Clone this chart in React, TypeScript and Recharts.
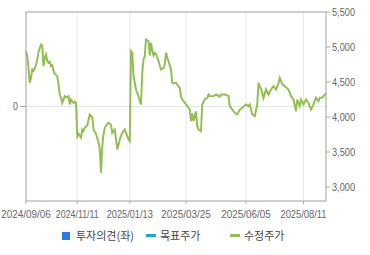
import { LineChart, Line, XAxis, YAxis, CartesianGrid, ReferenceLine } from 'recharts';

// trading-day index (approx.) and adjusted price
const dayIdx = [
  0, 1, 2, 3, 4, 5, 6, 8, 9, 10, 12, 13, 14, 15, 16, 17, 18, 19, 20, 21, 22, 23, 25, 26, 27, 28, 29, 30, 31, 32,
  34, 35, 36, 38, 39, 40, 41, 42, 44, 45, 46, 47, 49, 51, 53, 54, 56, 58, 59, 60, 61, 62, 63, 65, 66, 68, 69, 70, 71, 73,
  74, 75, 77, 79, 81, 82, 83, 84, 85, 86, 88, 90, 91, 92, 93, 94, 95, 96, 98, 99, 100, 101, 102, 103, 104, 106, 108, 110, 111, 112,
  113, 114, 116, 117, 118, 120, 122, 123, 124, 125, 128, 131, 132, 133, 134, 136, 137, 138, 140, 141, 143, 145, 146, 147, 150, 152, 155, 156, 159, 162,
  163, 166, 167, 169, 171, 173, 176, 178, 179, 181, 183, 185, 186, 188, 190, 192, 194, 196, 198, 200, 202, 203, 205, 207, 210, 212, 214, 216, 217, 219,
  220, 222, 224, 226, 228, 230, 232, 234, 235, 237, 239, 240,
];
const adjPrice = [
  4940, 4870, 4700, 4489, 4560, 4679, 4660, 4740, 4821, 4930, 5036, 5020, 4726, 4850, 4893, 4800, 4774, 4790, 4726, 4740, 4655, 4620, 4583, 4470, 4321, 4274, 4202, 4250, 4297, 4280,
  4297, 4179, 4250, 4202, 4220, 4200, 3726, 3760, 3707, 3821, 3800, 3846, 3880, 4036, 4000, 3821, 3760, 3631, 3536, 3203, 3583, 3750, 3846, 3900, 3917, 3890, 3774, 3800, 3821, 3536,
  3600, 3679, 3774, 3821, 3726, 3680, 3655, 4940, 4917, 4583, 4393, 4297, 4230, 4179, 4631, 4821, 4869, 5107, 5083, 4880, 5060, 4950, 4880, 4917, 4900, 4798, 4679, 4700, 4750, 4917,
  4850, 4800, 4679, 4489, 4480, 4489, 4440, 4417, 4297, 4250, 4179, 4107, 3940, 4050, 3940, 4080, 3869, 3821, 3798, 4179, 4250, 4274, 4320, 4297, 4300, 4321, 4290, 4321, 4321, 4300,
  4155, 4083, 4060, 4036, 4100, 4131, 4179, 4155, 4179, 4036, 4012, 4179, 4489, 4400, 4274, 4393, 4321, 4393, 4440, 4393, 4480, 4560, 4470, 4440, 4393, 4297, 4250, 4083, 4250, 4155,
  4250, 4179, 4250, 4200, 4107, 4179, 4274, 4226, 4274, 4274, 4321, 4340,
];

const tickDays = [0, 41, 83, 128, 176, 222];
const tickLabels = ['2024/09/06', '2024/11/11', '2025/01/13', '2025/03/25', '2025/06/05', '2025/08/11'];
const priceTicks = [3000, 3500, 4000, 4500, 5000, 5500];
const opinionTicks = [0];

const legendItems = [
  { name: '투자의견(좌)', color: '#2b7be0', icon: 'square' },
  { name: '목표주가', color: '#1fa6be', icon: 'line' },
  { name: '수정주가', color: '#92bf55', icon: 'line' },
];

const data = dayIdx.map((d, i) => ({ day: d, price: adjPrice[i], opinion: 0 }));

const axisColor = '#aaaaaa';
const labelFont = "'Liberation Sans', Arial, sans-serif";

// the original uses a narrow bitmap-style font: squeeze text to its widths
const textWidth = (s: string) => s.split('').reduce((w, c) => w + (c === '1' ? 3.3 : c === ',' ? 3.3 : 4.93), 0);

function NarrowTick(props: any) {
  const { x, y, payload, textAnchor, verticalAnchor, formatter } = props;
  const s = formatter ? formatter(payload.value) : String(payload.value);
  const dy = verticalAnchor === 'start' ? '0.71em' : verticalAnchor === 'end' ? '0' : '0.355em';
  return (
    <text
      x={x}
      y={y}
      dy={dy}
      textAnchor={textAnchor}
      fontSize={11}
      fill="#666"
      fontFamily={labelFont}
      textLength={textWidth(s)}
      lengthAdjust="spacingAndGlyphs"
    >
      {s}
    </text>
  );
}

export default function App() {
  return (
    <div style={{ position: 'absolute', left: 0, top: 0, width: 370, height: 255, background: '#fff' }}>
      <LineChart width={370} height={255} data={data} margin={{ top: 12, right: 0, bottom: 34, left: 0 }}>
        <CartesianGrid yAxisId="left" stroke="#e6e6e6" />
        <XAxis
          dataKey="day"
          type="number"
          domain={[0, 240]}
          ticks={tickDays}
          interval={0}
          height={20}
          tickSize={3}
          tickMargin={6}
          stroke={axisColor}
          tick={<NarrowTick formatter={(v: number) => tickLabels[tickDays.indexOf(v)]} />}
        />
        <YAxis
          yAxisId="left"
          type="number"
          domain={[-1, 1]}
          allowDataOverflow
          ticks={opinionTicks}
          interval={0}
          width={26}
          stroke={axisColor}
          tick={<NarrowTick />}
        />
        <YAxis
          yAxisId="right"
          orientation="right"
          type="number"
          domain={[2800, 5500]}
          ticks={priceTicks}
          interval={0}
          width={44}
          tickSize={4}
          tickMargin={2}
          stroke={axisColor}
          tick={<NarrowTick formatter={(v: number) => v.toLocaleString('en-US')} />}
        />
        <ReferenceLine yAxisId="right" y={5500} stroke={axisColor} />
        <Line
          yAxisId="left"
          dataKey="opinion"
          stroke="none"
          dot={false}
          activeDot={false}
          isAnimationActive={false}
        />
        <Line
          yAxisId="right"
          type="linear"
          dataKey="price"
          stroke="#92bf55"
          strokeWidth={2}
          dot={false}
          isAnimationActive={false}
        />
      </LineChart>
      <div style={{ position: 'absolute', left: 62, top: 229, display: 'flex', fontFamily: "'Noto Sans CJK KR', sans-serif", fontSize: 11, color: '#444' }}>
        {legendItems.map((it) => (
          <div key={it.name} style={{ width: 84, height: 13, display: 'flex', alignItems: 'center' }}>
            {it.icon === 'square' ? (
              <span style={{ width: 8, height: 8, background: it.color, marginRight: 6 }} />
            ) : (
              <span style={{ width: 10, height: 3, background: it.color, marginRight: 4 }} />
            )}
            <span style={{ lineHeight: '13px' }}>{it.name}</span>
          </div>
        ))}
      </div>
    </div>
  );
}
